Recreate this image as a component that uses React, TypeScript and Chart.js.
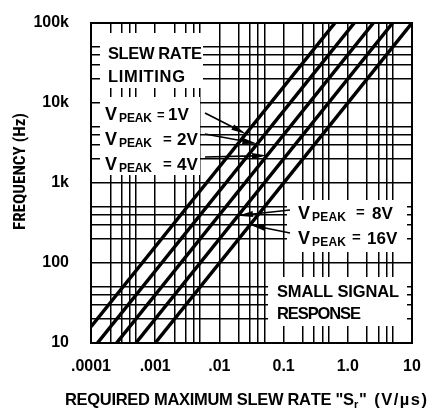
import React, { useEffect, useRef } from 'react';
import { Chart, registerables } from 'chart.js';

Chart.register(...registerables);

// ---------- data ----------
const vPeakNames = ['1V', '2V', '4V', '8V', '16V'];

const slewRate1V = [0.0001, 0.63];
const freq1V = [16, 100000];
const slewRate2V = [0.000126, 1.26];
const freq2V = [10, 100000];
const slewRate4V = [0.00025, 2.5];
const freq4V = [10, 100000];
const slewRate8V = [0.0005, 5];
const freq8V = [10, 100000];
const slewRate16V = [0.001, 10];
const freq16V = [10, 100000];

const xDecades = [0.0001, 0.001, 0.01, 0.1, 1, 10];
const xTickLabels = ['.0001', '.001', '.01', '0.1', '1.0', '10'];
const yDecades = [10, 100, 1000, 10000, 100000];
const yTickLabels = ['10', '100', '1k', '10k', '100k'];
const gridMultipliers = [1, 2, 3, 4, 5];

// arrow tips (on each curve), in data units
const arrowTipSlew = [0.026, 0.039, 0.055, 0.0195, 0.03];
const arrowTipFreq = [4100, 3100, 2200, 390, 300];

// ---------- styling / layout ----------
const FONT = "'Liberation Sans', Arial, sans-serif";
const FONT_NARROW = "'Roboto Condensed', 'DejaVu Sans Condensed', sans-serif";
const W = 429;
const H = 410;
const REF_LEFT = 91;
const REF_TOP = 23;
const REF_RIGHT = 412;
const REF_BOTTOM = 343;

const arrowTails = [
  [205, 113],
  [205, 134],
  [205, 157],
  [290, 210],
  [290, 233],
];

const whiteBoxes = [
  [100, 33, 103, 55],
  [100, 97, 100, 78],
  [287, 200, 120, 52],
  [268, 277, 139, 49],
];

type TextItem = { t: string; x: number; y: number; w?: number; s: number };
const boxTexts: TextItem[] = [
  { t: 'SLEW RATE', x: 108, y: 59, w: 94, s: 16.5 },
  { t: 'LIMITING', x: 108, y: 82, w: 77, s: 16.5 },
  { t: 'V', x: 105, y: 120, s: 18 },
  { t: 'PEAK', x: 119, y: 122, w: 33, s: 12 },
  { t: '=', x: 157, y: 119, s: 13 },
  { t: vPeakNames[0], x: 168, y: 120, s: 17 },
  { t: 'V', x: 105, y: 145, s: 18 },
  { t: 'PEAK', x: 119, y: 147, w: 33, s: 12 },
  { t: '=', x: 163, y: 144, s: 15 },
  { t: vPeakNames[1], x: 177, y: 145, s: 17 },
  { t: 'V', x: 105, y: 170, s: 18 },
  { t: 'PEAK', x: 119, y: 172, w: 33, s: 12 },
  { t: '=', x: 163, y: 169, s: 15 },
  { t: vPeakNames[2], x: 177, y: 170, s: 17 },
  { t: 'V', x: 298, y: 219, s: 18 },
  { t: 'PEAK', x: 312, y: 221, w: 34, s: 12 },
  { t: '=', x: 356, y: 217, s: 15 },
  { t: vPeakNames[3], x: 372, y: 219, s: 17 },
  { t: 'V', x: 298, y: 244, s: 18 },
  { t: 'PEAK', x: 312, y: 246, w: 34, s: 12 },
  { t: '=', x: 352, y: 242, s: 15 },
  { t: vPeakNames[4], x: 367, y: 244, s: 17 },
  { t: 'SMALL SIGNAL', x: 277, y: 297, w: 122, s: 16.5 },
  { t: 'RESPONSE', x: 277, y: 319, w: 84, s: 16.5 },
];

function drawSpaced(
  ctx: CanvasRenderingContext2D,
  text: string,
  x: number,
  y: number,
  width: number | undefined,
  size: number,
  family: string = FONT
) {
  ctx.font = `bold ${size}px ${family}`;
  ctx.textAlign = 'left';
  ctx.textBaseline = 'alphabetic';
  const chars = Array.from(text);
  const ws = chars.map((c) => ctx.measureText(c).width);
  const total = ws.reduce((a, b) => a + b, 0);
  const gap = width !== undefined && chars.length > 1 ? (width - total) / (chars.length - 1) : 0;
  let cx = x;
  chars.forEach((c, i) => {
    ctx.fillText(c, cx, y);
    cx += ws[i] + gap;
  });
}

function drawArrow(ctx: CanvasRenderingContext2D, x0: number, y0: number, x1: number, y1: number) {
  const ang = Math.atan2(y1 - y0, x1 - x0);
  const L = 15;
  const hw = 3;
  const c = Math.cos(ang);
  const s = Math.sin(ang);
  const bx = x1 - L * c;
  const by = y1 - L * s;
  ctx.lineWidth = 1.6;
  ctx.beginPath();
  ctx.moveTo(x0, y0);
  ctx.lineTo(bx + 2 * c, by + 2 * s);
  ctx.stroke();
  ctx.beginPath();
  ctx.moveTo(x1, y1);
  ctx.lineTo(bx + hw * s, by - hw * c);
  ctx.lineTo(bx - hw * s, by + hw * c);
  ctx.closePath();
  ctx.fill();
}

function gridValues(decades: number[]) {
  const out: number[] = [];
  decades.forEach((d, i) => {
    if (i === decades.length - 1) out.push(d);
    else gridMultipliers.forEach((m) => out.push(d * m));
  });
  return out;
}

function labelFor(value: number, decades: number[], labels: string[]) {
  const i = decades.findIndex((d) => Math.abs(d - value) / d < 1e-6);
  return i >= 0 ? labels[i] : '';
}

const annotationPlugin = {
  id: 'slewAnnotations',
  beforeDatasetsDraw(chart: any) {
    const ctx: CanvasRenderingContext2D = chart.ctx;
    const ca = chart.chartArea;
    const ox = ca.left - REF_LEFT;
    const oy = ca.top - REF_TOP;
    ctx.save();
    ctx.fillStyle = '#fff';
    whiteBoxes.forEach(([x, y, w, h]) => ctx.fillRect(x + ox, y + oy, w, h));
    ctx.fillStyle = '#000';
    boxTexts.forEach((it) => drawSpaced(ctx, it.t, it.x + ox, it.y + oy, it.w, it.s));
    ctx.restore();
  },
  afterDatasetsDraw(chart: any) {
    const ctx: CanvasRenderingContext2D = chart.ctx;
    const ca = chart.chartArea;
    const ox = ca.left - REF_LEFT;
    const oy = ca.top - REF_TOP;
    const xs = chart.scales.x;
    const ys = chart.scales.y;
    ctx.save();
    ctx.strokeStyle = '#000';
    ctx.fillStyle = '#000';
    arrowTails.forEach(([tx, ty], i) => {
      const px = xs.getPixelForValue(arrowTipSlew[i]);
      const py = ys.getPixelForValue(arrowTipFreq[i]);
      drawArrow(ctx, tx + ox, ty + oy, px, py);
    });
    ctx.lineWidth = 2;
    ctx.strokeRect(ca.left, ca.top, ca.right - ca.left, ca.bottom - ca.top);
    // y title
    ctx.save();
    ctx.translate(25, 230);
    ctx.rotate(-Math.PI / 2);
    drawSpaced(ctx, 'FREQUENCY (Hz)', 0, 0, 117, 17, FONT_NARROW);
    ctx.restore();
    // x title
    drawSpaced(ctx, 'REQUIRED MAXIMUM SLEW RATE "S', 65, 405, 289, 16.5);
    drawSpaced(ctx, 'r', 354, 408, undefined, 11);
    drawSpaced(ctx, '" (V/\u00B5s)', 359, 405, 68, 16.5);
    ctx.restore();
  },
};

function makeSeries(xs: number[], ys: number[]) {
  return xs.map((x, i) => ({ x, y: ys[i] }));
}

export default function App() {
  const ref = useRef<HTMLCanvasElement | null>(null);

  useEffect(() => {
    if (!ref.current) return;
    const seriesX = [slewRate1V, slewRate2V, slewRate4V, slewRate8V, slewRate16V];
    const seriesY = [freq1V, freq2V, freq4V, freq8V, freq16V];
    const xGrid = gridValues(xDecades);
    const yGrid = gridValues(yDecades);
    const tickFont = { family: FONT, size: 16, weight: 'bold' as const };

    const chart = new Chart(ref.current, {
      type: 'line',
      data: {
        datasets: vPeakNames.map((name, i) => ({
          label: 'VPEAK = ' + name,
          data: makeSeries(seriesX[i], seriesY[i]),
          borderColor: '#000',
          borderWidth: 3.5,
          pointRadius: 0,
          fill: false,
          tension: 0,
          clip: 0,
        })),
      },
      options: {
        animation: false,
        responsive: false,
        devicePixelRatio: 1,
        layout: { padding: { left: 0, top: REF_TOP, right: W - REF_RIGHT, bottom: 0 } },
        plugins: { legend: { display: false }, tooltip: { enabled: false } },
        scales: {
          x: {
            type: 'logarithmic',
            min: xDecades[0],
            max: xDecades[xDecades.length - 1],
            afterBuildTicks: (scale: any) => {
              scale.ticks = xGrid.map((v) => ({ value: v }));
            },
            afterFit: (scale: any) => {
              scale.height = H - REF_BOTTOM;
              scale.paddingLeft = 0;
              scale.paddingRight = 0;
            },
            grid: { color: '#000', lineWidth: 1.5, drawTicks: false },
            border: { display: false },
            ticks: {
              autoSkip: false,
              maxRotation: 0,
              minRotation: 0,
              padding: 14,
              color: '#000',
              font: tickFont,
              callback: (v: any) => labelFor(Number(v), xDecades, xTickLabels),
            },
          },
          y: {
            type: 'logarithmic',
            min: yDecades[0],
            max: yDecades[yDecades.length - 1],
            afterBuildTicks: (scale: any) => {
              scale.ticks = yGrid.map((v) => ({ value: v }));
            },
            afterFit: (scale: any) => {
              scale.width = REF_LEFT;
              scale.paddingTop = 0;
              scale.paddingBottom = 0;
            },
            grid: { color: '#000', lineWidth: 1.5, drawTicks: false },
            border: { display: false },
            ticks: {
              autoSkip: false,
              padding: 22,
              color: '#000',
              font: tickFont,
              callback: (v: any) => labelFor(Number(v), yDecades, yTickLabels),
            },
          },
        },
      },
      plugins: [annotationPlugin],
    });
    return () => chart.destroy();
  }, []);

  return (
    <div style={{ position: 'fixed', left: 0, top: 0, width: W, height: H, background: '#fff' }}>
      <canvas ref={ref} width={W} height={H} style={{ display: 'block' }} />
    </div>
  );
}
